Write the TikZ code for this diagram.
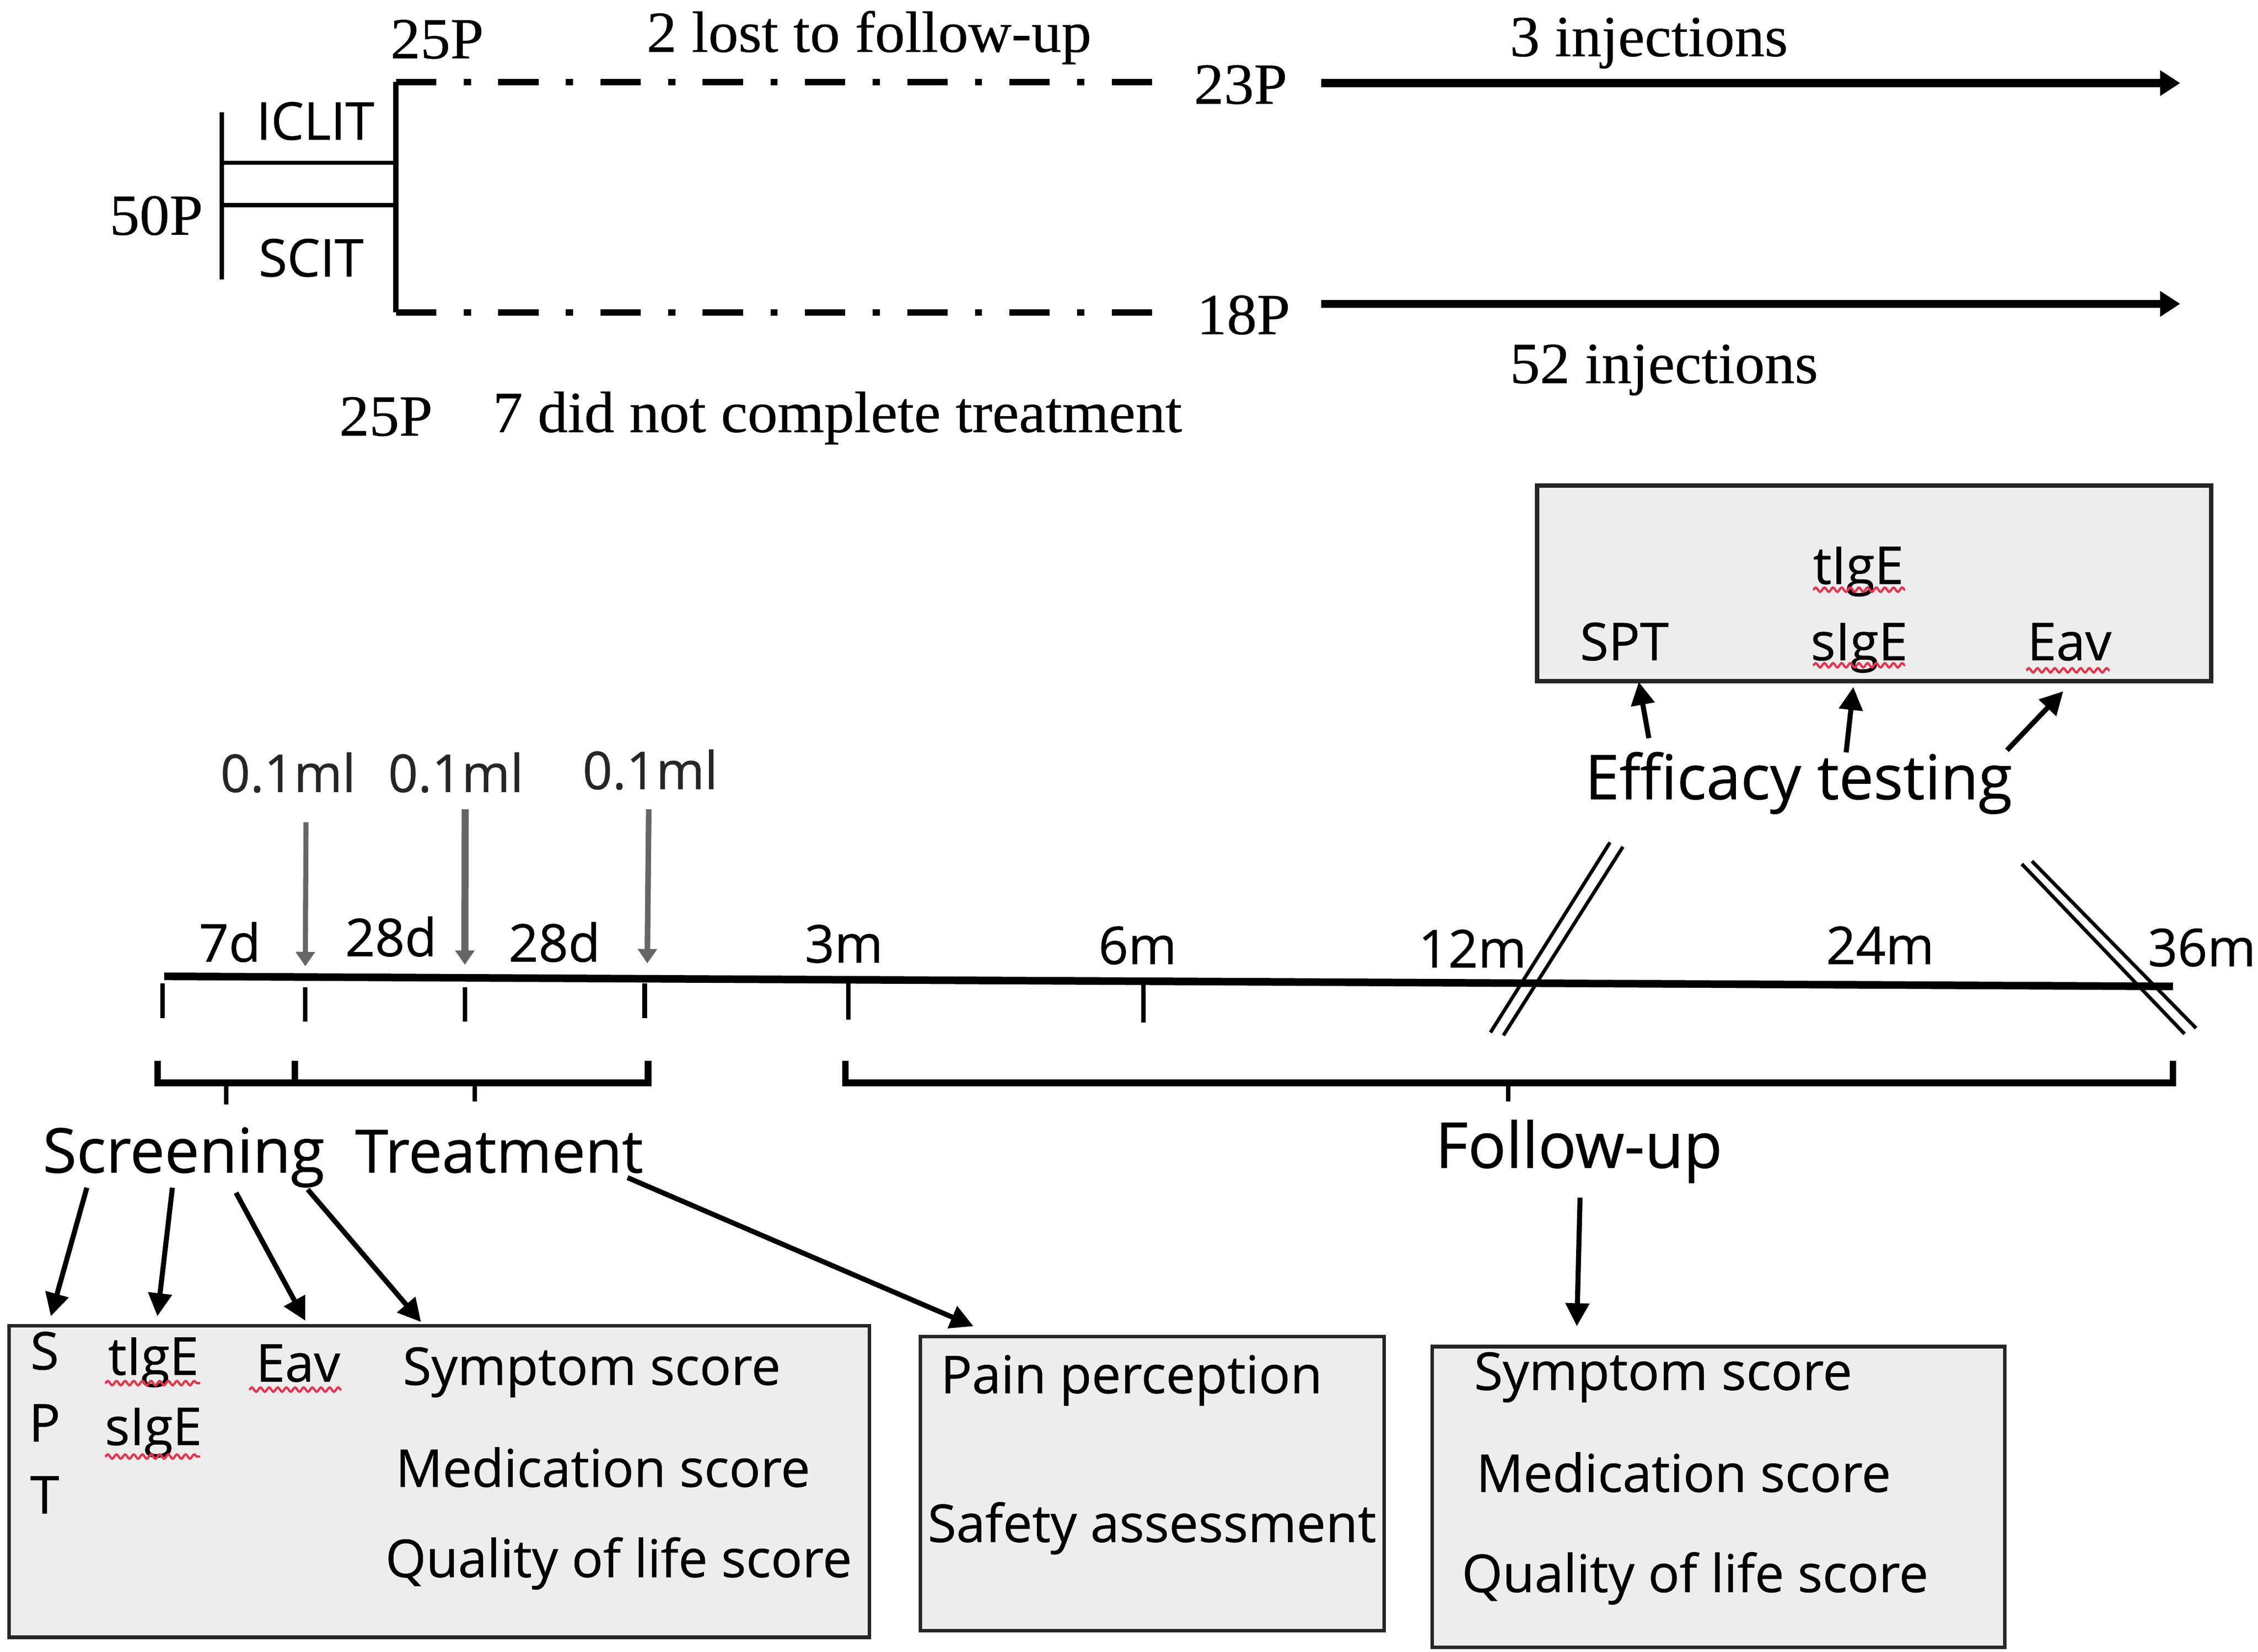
\documentclass[tikz,border=0pt]{standalone}
\usepackage{fontspec}
\newfontfamily\osans{Open Sans}[FakeBold=0.6]
\newfontfamily\tserif{Liberation Serif}[FakeStretch=1.03,FakeBold=0.4]
\usetikzlibrary{arrows.meta,decorations.pathmorphing}
\definecolor{boxgray}{HTML}{EDEDED}
\definecolor{injgray}{HTML}{666666}
\definecolor{squig}{HTML}{E8334A}
\tikzset{
 sertext/.style={font=\tserif\fontsize{11.5}{13}\selectfont, inner sep=0pt},
 smalltext/.style={font=\osans\fontsize{10.3}{12}\selectfont, inner sep=0pt},
 bigtext/.style={font=\osans\fontsize{12.2}{14}\selectfont, inner sep=0pt},
 boxstyle/.style={draw=black!85, fill=boxgray, line width=0.7pt, inner sep=0pt, anchor=north west},
 bigarrow/.style={line width=1.6pt, -{Triangle[length=1.4mm,width=1.7mm]}},
 blackarrow/.style={line width=1.0pt, -{Triangle[length=1.6mm,width=1.6mm]}},
 injarrow/.style={draw=injgray, -{Triangle[length=1.0mm,width=1.3mm]}},
 dashdot/.style={line width=1.3pt, dash pattern=on 2.8mm off 1.9mm on 0.5mm off 1.9mm},
 squiggle/.style={draw=squig, line width=0.45pt, decorate, decoration={snake, amplitude=0.15mm, segment length=0.6mm}},
 tickline/.style={line width=0.9pt},
 brack/.style={line width=1.3pt},
 slashline/.style={line width=0.7pt},
}
\begin{document}
\begin{tikzpicture}[x=0.1mm,y=-0.1mm]
\useasboundingbox (0,0) rectangle (1568,1147);

% ---------- top: allocation ----------
\node[sertext, anchor=base] (n50) at (108.5,163) {50P};
\node[smalltext, anchor=base] (iclit) at (219,97) {ICLIT};
\node[smalltext, anchor=base] (scit) at (216,192) {SCIT};
\coordinate (lv0) at (154,78);
\coordinate (lv1) at (154,194);
\draw[line width=0.8pt] (lv0) -- (lv1);
\coordinate (h1a) at (154,113); \coordinate (h1b) at (275,113);
\coordinate (h2a) at (154,142.5); \coordinate (h2b) at (275,142.5);
\draw[line width=0.8pt] (h1a) -- (h1b);
\draw[line width=0.8pt] (h2a) -- (h2b);
\coordinate (rvt) at (275,57);
\coordinate (rvb) at (275,217);
\draw[line width=1.1pt] (rvt) -- (rvb);
\coordinate (dt1) at (811,57);
\coordinate (db1) at (811,217);
\draw[dashdot] (rvt) -- (dt1);
\draw[dashdot] (rvb) -- (db1);

\node[sertext, anchor=base] (p25a) at (303.5,40.5) {25P};
\node[sertext, anchor=base] (lost) at (603.5,36) {2 lost to follow-up};
\node[sertext, anchor=base] (p23) at (861.5,72) {23P};
\node[sertext, anchor=base] (p18) at (863.5,232) {18P};
\node[sertext, anchor=base] (p25b) at (268,302.5) {25P};
\node[sertext, anchor=base] (notc) at (581.5,300) {7 did not complete treatment};

\coordinate (a1s) at (917.5,57.7); \coordinate (a1e) at (1514,57.7);
\coordinate (a2s) at (917.5,211); \coordinate (a2e) at (1514,211);
\draw[bigarrow] (a1s) -- (a1e);
\draw[bigarrow] (a2s) -- (a2e);
\node[sertext, anchor=base] (inj3) at (1145,39) {3 injections};
\node[sertext, anchor=base] (inj52) at (1155.5,266) {52 injections};

% ---------- efficacy box ----------
\node[boxstyle, line width=0.85pt, minimum width=46.8mm, minimum height=13.6mm] (effbox) at (1066,335.6) {};
\node[smalltext, anchor=base] (espt) at (1128,458.5) {SPT};
\node[smalltext, anchor=base] (etige) at (1290.5,405.5) {tIgE};
\node[smalltext, anchor=base] (esige) at (1291,458.5) {sIgE};
\node[smalltext, anchor=base] (eeav) at (1437,458.5) {Eav};
\coordinate (sq1a) at (1259,409.5); \coordinate (sq1b) at (1323,409.5);
\coordinate (sq2a) at (1259,462); \coordinate (sq2b) at (1323,462);
\coordinate (sq3a) at (1407,465.5); \coordinate (sq3b) at (1465,465.5);
\draw[squiggle] (sq1a) -- (sq1b);
\draw[squiggle] (sq2a) -- (sq2b);
\draw[squiggle] (sq3a) -- (sq3b);

\node[bigtext, anchor=base west] (efft) at (1100,555) {Efficacy testing};
\coordinate (ea1s) at (1145,512.6); \coordinate (ea1e) at (1138,473.5);
\coordinate (ea2s) at (1282,522.5); \coordinate (ea2e) at (1287,477);
\coordinate (ea3s) at (1393.7,521); \coordinate (ea3e) at (1432.8,480);
\draw[blackarrow] (ea1s) -- (ea1e);
\draw[blackarrow] (ea2s) -- (ea2e);
\draw[blackarrow] (ea3s) -- (ea3e);

% ---------- injections ----------
\node[smalltext, anchor=base, text=black!85] (ml1) at (200,550) {0.1ml};
\node[smalltext, anchor=base, text=black!85] (ml2) at (316.5,550) {0.1ml};
\node[smalltext, anchor=base, text=black!85] (ml3) at (451.5,548) {0.1ml};
\coordinate (i1s) at (212.5,571); \coordinate (i1e) at (212,671);
\coordinate (i2s) at (323,562); \coordinate (i2e) at (322.8,670);
\coordinate (i3s) at (450.5,562); \coordinate (i3e) at (449.5,669);
\draw[injarrow, line width=1.0pt] (i1s) -- (i1e);
\draw[injarrow, line width=1.4pt] (i2s) -- (i2e);
\draw[injarrow, line width=1.1pt] (i3s) -- (i3e);

% ---------- timeline ----------
\node[smalltext, anchor=base] (d7) at (159.6,667.8) {7d};
\node[smalltext, anchor=base] (d28a) at (271.5,664) {28d};
\node[smalltext, anchor=base] (d28b) at (385,667.8) {28d};
\node[smalltext, anchor=base] (m3) at (586,668.4) {3m};
\node[smalltext, anchor=base] (m6) at (790,669.5) {6m};
\node[smalltext, anchor=base] (m12) at (1022.5,671.8) {12m};
\node[smalltext, anchor=base] (m24) at (1305.6,669.5) {24m};
\node[smalltext, anchor=base] (m36) at (1529,671) {36m};

\coordinate (tl0) at (114,678); \coordinate (tl1) at (1509,685);
\draw[line width=1.5pt] (tl0) -- (tl1);
\foreach \nm/\xx/\ya/\yb in {t1/112.8/683/707, t2/211.8/685.5/709.5, t3/322.8/685.5/709.5, t4/447.7/683/707, t5/589/682/708, t6/794/683/710}{
  \coordinate (\nm a) at (\xx,\ya); \coordinate (\nm b) at (\xx,\yb);
  \draw[tickline] (\nm a) -- (\nm b);
}
% slashes
\coordinate (s1a) at (1118,585); \coordinate (s1b) at (1035,717);
\coordinate (s2a) at (1127,588); \coordinate (s2b) at (1044,719);
\coordinate (s3a) at (1404,600); \coordinate (s3b) at (1517,718);
\coordinate (s4a) at (1411,598); \coordinate (s4b) at (1525,714);
\draw[slashline] (s1a) -- (s1b);
\draw[slashline] (s2a) -- (s2b);
\draw[slashline] (s3a) -- (s3b);
\draw[slashline] (s4a) -- (s4b);

% brackets
\coordinate (b1a) at (109.4,736.5); \coordinate (b1b) at (204.8,736.5);
\coordinate (b2b) at (450,736.5);
\coordinate (b3a) at (587,736.5); \coordinate (b3b) at (1509,736.5);
\draw[brack] (b1a) -- ++(0,15.5) -| (b1b);
\draw[brack] (b1b) -- ++(0,15.5) -| (b2b);
\draw[brack] (b3a) -- ++(0,15.5) -| (b3b);
\coordinate (c1a) at (157,752); \coordinate (c1b) at (157,767);
\coordinate (c2a) at (329.7,752); \coordinate (c2b) at (329.7,765);
\coordinate (c3a) at (1047.2,752); \coordinate (c3b) at (1047.2,765);
\draw[tickline] (c1a) -- (c1b);
\draw[tickline] (c2a) -- (c2b);
\draw[tickline] (c3a) -- (c3b);

% ---------- phase labels ----------
\node[bigtext, anchor=base west] (scr) at (29,814.3) {Screening};
\node[bigtext, anchor=base west, font=\osans\fontsize{11.8}{14}\selectfont] (trt) at (246,814.3) {Treatment};
\node[bigtext, anchor=base west, font=\osans\fontsize{12.5}{14}\selectfont] (fup) at (996,811) {Follow-up};

% ---------- bottom boxes ----------
\node[boxstyle, minimum width=59.76mm, minimum height=21.63mm] (boxL) at (5,919.5) {};
\node[boxstyle, minimum width=32.21mm, minimum height=20.43mm] (boxM) at (637.8,926.9) {};
\node[boxstyle, minimum width=39.76mm, minimum height=20.89mm] (boxR) at (993.3,933.9) {};

\node[smalltext, anchor=base] (lS) at (31,951) {S};
\node[smalltext, anchor=base] (lP) at (31,1001) {P};
\node[smalltext, anchor=base] (lT) at (31,1051) {T};
\node[smalltext, anchor=base] (ltige) at (106.5,954.7) {tIgE};
\node[smalltext, anchor=base] (lsige) at (106.5,1003.5) {sIgE};
\node[smalltext, anchor=base] (leav) at (207,959.4) {Eav};
\coordinate (sq4a) at (73,960.5); \coordinate (sq4b) at (139,960.5);
\coordinate (sq5a) at (73,1011.5); \coordinate (sq5b) at (139,1011.5);
\coordinate (sq6a) at (173,965); \coordinate (sq6b) at (237,965);
\draw[squiggle] (sq4a) -- (sq4b);
\draw[squiggle] (sq5a) -- (sq5b);
\draw[squiggle] (sq6a) -- (sq6b);
\node[smalltext, anchor=base west] (lsym) at (279,961.7) {Symptom score};
\node[smalltext, anchor=base west] (lmed) at (274,1032.5) {Medication score};
\node[smalltext, anchor=base west] (lqol) at (267,1095.2) {Quality of life score};

\node[smalltext, anchor=base west] (mpain) at (652.5,967.5) {Pain perception};
\node[smalltext, anchor=base west] (msafe) at (643.5,1070.8) {Safety assessment};

\node[smalltext, anchor=base west] (rsym) at (1023,965.2) {Symptom score};
\node[smalltext, anchor=base west] (rmed) at (1024.5,1036) {Medication score};
\node[smalltext, anchor=base west] (rqol) at (1014.5,1105.6) {Quality of life score};

% ---------- arrows to boxes ----------
\coordinate (sa1s) at (60.3,824.8); \coordinate (sa1e) at (35.3,914.1);
\coordinate (sa2s) at (119.7,824.8); \coordinate (sa2e) at (109.3,914.1);
\coordinate (sa3s) at (163.9,828.3); \coordinate (sa3e) at (212.1,917.2);
\coordinate (sa4s) at (213.7,826); \coordinate (sa4e) at (292.4,918.1);
\coordinate (ta1s) at (435.8,817.8); \coordinate (ta1e) at (676,921);
\coordinate (fa1s) at (1097.2,831.7); \coordinate (fa1e) at (1095,921);
\draw[blackarrow] (sa1s) -- (sa1e);
\draw[blackarrow] (sa2s) -- (sa2e);
\draw[blackarrow] (sa3s) -- (sa3e);
\draw[blackarrow] (sa4s) -- (sa4e);
\draw[blackarrow] (ta1s) -- (ta1e);
\draw[blackarrow] (fa1s) -- (fa1e);
\end{tikzpicture}
\end{document}
